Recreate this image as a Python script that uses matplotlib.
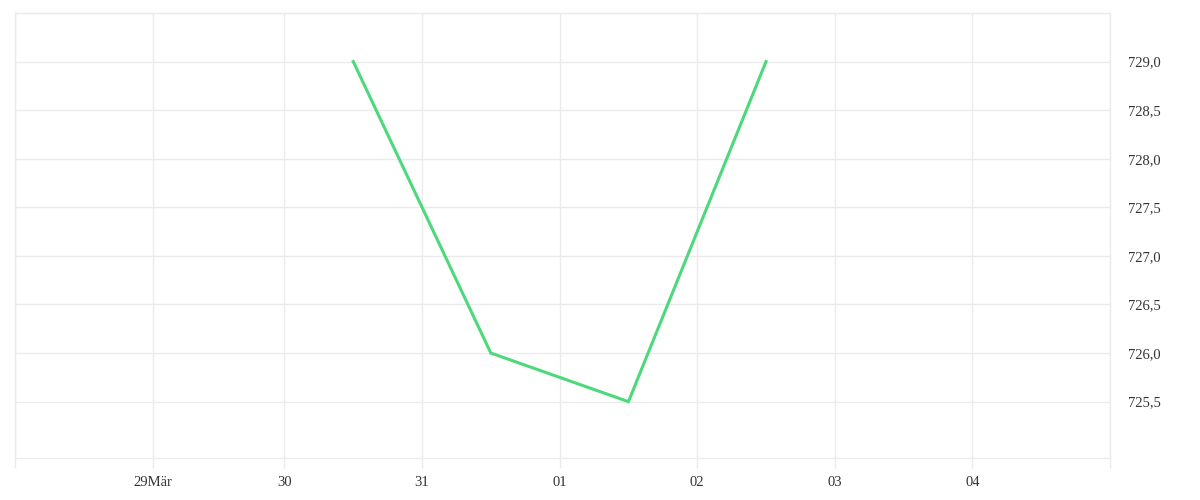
import matplotlib
matplotlib.use("Agg")
import matplotlib.pyplot as plt
from matplotlib.ticker import FixedLocator, FuncFormatter

# Hours relative to local midnight of 29 Mar (DST shift leaves one 23-hour day)
tick_hours = [-24, 0, 23, 47, 71, 95, 119, 143, 167]
tick_labels = ["", "29Mär", "30", "31", "01", "02", "03", "04", ""]

point_hours = [35, 59, 83, 107]
values = [729.0, 726.0, 725.5, 729.0]

y_ticks = [725.5, 726.0, 726.5, 727.0, 727.5, 728.0, 728.5, 729.0]

plt.rcParams['font.family'] = ['Liberation Serif', 'DejaVu Serif']

fig = plt.figure(figsize=(12, 5), dpi=100)
ax = fig.add_axes([15/1200, 42/500, 1095/1200, 445/500])

grid_c = "#ebebeb"
ax.plot(point_hours, values, color="#4cd97b", linewidth=2.2, solid_joinstyle="miter")

ax.set_xlim(-24, 167)
ax.set_ylim(724.92, 729.5)

ax.xaxis.set_major_locator(FixedLocator(tick_hours))
ax.set_xticklabels(tick_labels)
ax.yaxis.set_major_locator(FixedLocator(y_ticks + [729.5]))
ax.yaxis.set_major_formatter(FuncFormatter(lambda v, p: "" if v > 729.2 else f"{v:.1f}".replace(".", ",")))

ax.yaxis.tick_right()
ax.grid(True, color=grid_c, linewidth=1)
ax.tick_params(axis="x", length=7.2, width=1, color=grid_c, pad=6, labelsize=10.5, labelcolor="#333333")
ax.tick_params(axis="y", length=0, pad=13, labelsize=10.5, labelcolor="#333333")
for s in ax.spines.values():
    s.set_color(grid_c)
    s.set_linewidth(1)
ax.set_axisbelow(True)

fig.savefig("out.png", dpi=100)
